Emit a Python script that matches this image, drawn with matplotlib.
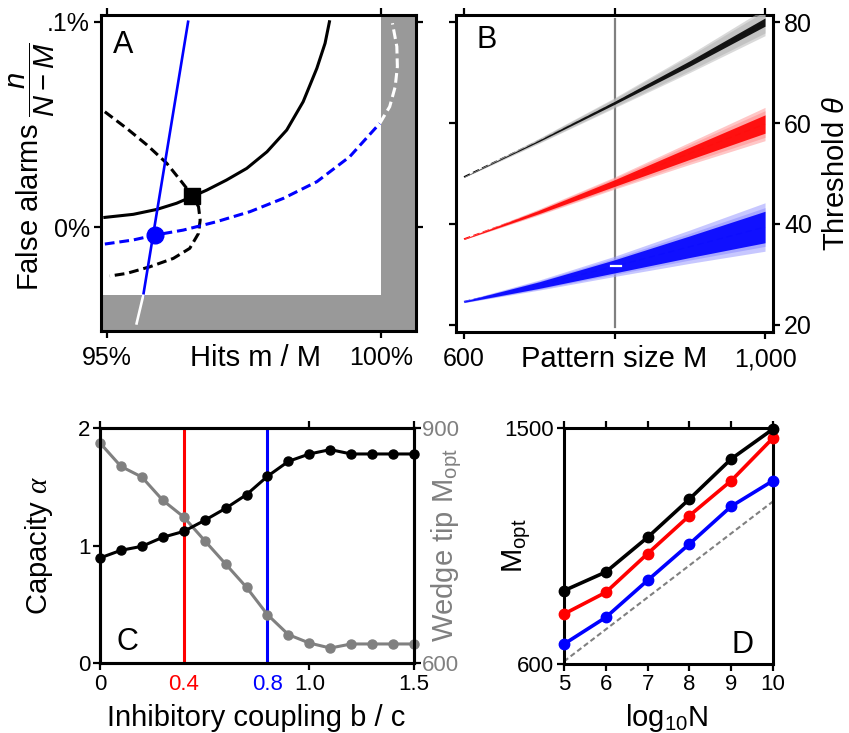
import matplotlib
matplotlib.use("Agg")
import matplotlib.pyplot as plt
import numpy as np

plt.rcParams['font.family'] = ['Liberation Sans', 'DejaVu Sans']
plt.rcParams['mathtext.fontset'] = 'custom'
plt.rcParams['mathtext.rm'] = 'Liberation Sans'
plt.rcParams['mathtext.it'] = 'Liberation Sans:italic'
plt.rcParams['mathtext.cal'] = 'Liberation Serif:italic'
plt.rcParams['axes.linewidth'] = 2.2

# ---------------- Panel A: hits vs false alarms ----------------
a_xticks = [95, 100]
a_xticklabels = ['95%', '100%']
a_yticks = [0.0, 0.1]
a_yticklabels = ['0%', '.1%']

a_black_x = [94.96, 95.48, 95.91, 96.27, 96.55, 96.82, 97.18, 97.55, 97.92, 98.28, 98.58, 98.83, 98.98, 99.06]
a_black_y = [0.0047, 0.0062, 0.0086, 0.0116, 0.0148, 0.0180, 0.0229, 0.0286, 0.0367, 0.0473, 0.0611, 0.0774, 0.0896, 0.1001]

a_dash_x = [94.96, 95.36, 95.73, 96.09, 96.36, 96.55, 96.67, 96.70, 96.67, 96.51, 96.21, 95.78, 95.36, 95.05]
a_dash_y = [0.0562, 0.0481, 0.0400, 0.0311, 0.0221, 0.0156, 0.0099, 0.0034, -0.0031, -0.0104, -0.0153, -0.0194, -0.0226, -0.0239]

a_bdash_x = [94.96, 95.48, 95.88, 96.39, 97.00, 97.61, 98.22, 98.83, 99.43, 99.98]
a_bdash_y = [-0.0083, -0.0063, -0.0039, -0.0015, 0.0026, 0.0075, 0.0140, 0.0221, 0.0343, 0.0506]
a_wdash_x = [99.98, 100.16, 100.26, 100.30, 100.29, 100.21]
a_wdash_y = [0.0506, 0.0587, 0.0684, 0.0782, 0.0880, 0.0994]

a_bline_x = [96.48, 95.66]
a_bline_y = [0.1001, -0.0335]
a_wline_x = [95.66, 95.54]
a_wline_y = [-0.0335, -0.0470]

a_square = (96.55, 0.0151)
a_circle = (95.88, -0.0039)
a_hits_max = 100.0
a_fa_min = -0.0332

# ---------------- Panel B: threshold vs pattern size ----------------
b_M = [600, 700, 800, 900, 1000]
b_theta_black = [49.3, 56.5, 64.0, 71.8, 80.0]
b_theta_red = [37.0, 42.4, 48.1, 54.0, 59.8]
b_theta_blue = [24.6, 27.9, 31.6, 35.5, 39.4]
b_spread_black = [0.1, 0.5, 1.0, 1.8, 2.7]
b_spread_red = [0.1, 0.6, 1.2, 2.2, 3.3]
b_spread_blue = [0.2, 1.0, 2.0, 3.3, 4.8]
b_xticks = [600, 800, 1000]
b_xticklabels = ['600', '', '1,000']
b_yticks = [20, 40, 60, 80]
b_marker_M = 800
b_marker_theta = 31.7

# ---------------- Panel C: capacity and wedge tip vs coupling ----------------
c_b = [0.0, 0.1, 0.2, 0.3, 0.4, 0.5, 0.6, 0.7, 0.8, 0.9, 1.0, 1.1, 1.2, 1.3, 1.4, 1.5]
c_capacity = [0.894, 0.959, 0.993, 1.07, 1.12, 1.214, 1.316, 1.433, 1.589, 1.716, 1.779, 1.816, 1.779, 1.779, 1.779, 1.779]
c_wedge = [880.9, 851.0, 837.4, 807.7, 786.4, 756.2, 726.4, 696.6, 661.7, 636.2, 625.5, 619.1, 624.3, 624.3, 624.3, 624.3]
c_red_b = 0.4
c_blue_b = 0.8
c_xticks = [0, 0.4, 0.8, 1.0, 1.5]
c_xticklabels = ['0', '0.4', '0.8', '1.0', '1.5']
c_top_ticks = [0, 1.0, 1.5]

# ---------------- Panel D: M_opt vs log10 N ----------------
d_logN = [5, 6, 7, 8, 9, 10]
d_black = [879.7, 950.8, 1083.0, 1229.0, 1382.0, 1496.0]
d_red = [790.7, 873.3, 1020.8, 1165.7, 1299.0, 1461.9]
d_blue = [676.0, 777.9, 919.0, 1057.6, 1201.3, 1299.0]
d_ref_x = [5, 10]
d_ref_y = [610, 1220]

BLUE = '#0000ff'
RED = '#ff0000'
GREY = '#808080'
SHADE = '#999999'

W, H = 849, 733
fig = plt.figure(figsize=(W / 100, H / 100), dpi=100)


def frac_axes(l, t, r, b):
    return fig.add_axes([l / W, 1 - b / H, (r - l) / W, (b - t) / H])


def style_ticks(ax, size):
    ax.tick_params(which='both', direction='out', length=5, width=1.6,
                   labelsize=size, pad=3)


# ---------- A ----------
axA = frac_axes(101, 15, 416, 331)
axA.set_xlim(94.89, 100.64)
axA.set_ylim(-0.0507, 0.1034)
x0, x1 = axA.get_xlim()
y0, y1 = axA.get_ylim()
axA.fill_between([x0, a_hits_max], y0, a_fa_min, color=SHADE, lw=0, zorder=1)
axA.fill_between([a_hits_max, x1], y0, y1, color=SHADE, lw=0, zorder=1)

dash = (0, (3.2, 1.6))
axA.plot(a_black_x, a_black_y, color='black', lw=2.2, zorder=3)
axA.plot(a_dash_x, a_dash_y, color='black', lw=2.2, ls=dash, zorder=3)
axA.plot(a_bdash_x, a_bdash_y, color=BLUE, lw=2.2, ls=dash, zorder=3)
axA.plot(a_wdash_x, a_wdash_y, color='white', lw=2.2, ls=dash, zorder=3)
axA.plot(a_bline_x, a_bline_y, color=BLUE, lw=1.9, zorder=4)
axA.plot(a_wline_x, a_wline_y, color='white', lw=1.9, zorder=4)
axA.plot([a_square[0]], [a_square[1]], marker='s', ms=12, color='black', zorder=5)
axA.plot([a_circle[0]], [a_circle[1]], marker='o', ms=12, color=BLUE, zorder=5)

axA.set_xticks(a_xticks)
axA.set_xticklabels(a_xticklabels)
axA.set_yticks(a_yticks)
axA.set_yticklabels(a_yticklabels)
style_ticks(axA, 18)
axA.tick_params(top=True, right=True)
axA.tick_params(axis='x', pad=6)
axA.text(0.07, 0.905, 'A', transform=axA.transAxes, fontsize=22,
         ha='center', va='center')
axA.text(0.49, -0.085, 'Hits m / M', transform=axA.transAxes, fontsize=21,
         ha='center', va='center')
axA.set_ylabel(r'False alarms $\dfrac{n}{N-M}$', fontsize=21)
axA.yaxis.set_label_coords(-0.14, 0.52)

# ---------- B ----------
axB = frac_axes(456, 15, 773, 332)
axB.set_xlim(589.4, 1010.6)
axB.set_ylim(18.6, 81.4)
axB.plot([b_marker_M, b_marker_M], [19.5, 80.6], color=GREY, lw=1.6, zorder=2)

bands = [
    (b_theta_black, b_spread_black, 'black', '#bbbbbb', 0.30),
    (b_theta_red, b_spread_red, RED, '#ff9a9a', 0.55),
    (b_theta_blue, b_spread_blue, BLUE, '#9a9aff', 0.65),
]
Mv = np.array(b_M, dtype=float)
for theta, spread, col, light, core in bands:
    th = np.array(theta)
    sp = np.array(spread)
    axB.plot(Mv, th, color=col, lw=1.2, ls=(0, (4, 2)), zorder=3)
    axB.fill_between(Mv, th - sp, th + sp, color=light, alpha=0.55, lw=0, zorder=3)
    axB.fill_between(Mv, th - 0.8 * sp, th + 0.8 * sp, color=light, alpha=0.7, lw=0, zorder=3)
    axB.fill_between(Mv, th - core * sp, th + core * sp, color=col, alpha=0.9, lw=0, zorder=4)
axB.plot([b_marker_M - 4, b_marker_M + 9], [b_marker_theta, b_marker_theta],
         color='white', lw=1.6, zorder=5)

axB.set_xticks(b_xticks)
axB.set_xticklabels(b_xticklabels)
axB.set_yticks(b_yticks)
style_ticks(axB, 18)
axB.tick_params(top=True, right=True, labelleft=False, labelright=True)
axB.tick_params(axis='x', pad=6)
axB.text(0.098, 0.921, 'B', transform=axB.transAxes, fontsize=22,
         ha='center', va='center')
axB.text(0.5, -0.085, 'Pattern size M', transform=axB.transAxes, fontsize=21,
         ha='center', va='center')
axB.yaxis.set_label_position('right')
axB.set_ylabel(r'Threshold $\theta$', fontsize=21)
axB.yaxis.set_label_coords(1.155, 0.5)

# ---------- C ----------
# wedge tip (grey) on the right-hand scale, bottom x ticks
axC = frac_axes(100, 428, 414, 663)
axC.set_xlim(0, 1.5)
axC.set_ylim(600, 900)
axC.axvline(c_red_b, color=RED, lw=2.2, zorder=1)
axC.axvline(c_blue_b, color=BLUE, lw=2.2, zorder=1)
axC.plot(c_b, c_wedge, color=GREY, lw=2.2, marker='o', ms=6.5, zorder=3,
         clip_on=False)
axC.yaxis.tick_right()
axC.yaxis.set_label_position('right')
axC.xaxis.set_ticks_position('bottom')
axC.set_yticks([600, 900])
axC.set_xticks(c_xticks)
axC.set_xticklabels(c_xticklabels)
style_ticks(axC, 16)
axC.tick_params(axis='y', labelcolor=GREY, pad=1)
for lbl, col in zip(axC.get_xticklabels(), ['black', RED, BLUE, 'black', 'black']):
    lbl.set_color(col)
for tk, val in zip(axC.xaxis.get_major_ticks(), c_xticks):
    if val in (c_red_b, c_blue_b):
        tk.tick1line.set_visible(False)
axC.set_ylabel(r'Wedge tip M$_{\mathrm{opt}}$', fontsize=21, color=GREY)
axC.yaxis.set_label_coords(1.05, 0.5)
axC.text(0.497, -0.234, 'Inhibitory coupling b / c', transform=axC.transAxes,
         fontsize=21, ha='center', va='center')

# capacity (black) on the left-hand scale, top x ticks
axC2 = frac_axes(100, 428, 414, 663)
axC2.patch.set_visible(False)
axC2.set_xlim(0, 1.5)
axC2.set_ylim(0, 2)
axC2.plot(c_b, c_capacity, color='black', lw=2.2, marker='o', ms=6.5,
          zorder=3, clip_on=False)
axC2.yaxis.tick_left()
axC2.set_yticks([0, 1, 2])
axC2.xaxis.set_ticks_position('top')
axC2.set_xticks(c_top_ticks)
style_ticks(axC2, 16)
axC2.tick_params(axis='x', labeltop=False, labelbottom=False)
axC2.tick_params(axis='y', pad=2)
axC2.set_ylabel(r'Capacity $\mathcal{\alpha}$', fontsize=21)
axC2.yaxis.set_label_coords(-0.143, 0.5)
axC2.text(0.086, 0.09, 'C', transform=axC2.transAxes, fontsize=22,
          ha='center', va='center')

# ---------- D ----------
axD = frac_axes(564, 428, 773, 664)
axD.set_xlim(5, 10)
axD.set_ylim(600, 1500)
axD.plot(d_ref_x, d_ref_y, color=GREY, lw=1.5, ls=(0, (2.5, 1.5)), zorder=2)
for ys, col in [(d_blue, BLUE), (d_red, RED), (d_black, 'black')]:
    axD.plot(d_logN, ys, color=col, lw=2.6, marker='o', ms=7.5, zorder=3,
             clip_on=False)
axD.set_xticks(d_logN)
axD.set_yticks([600, 1500])
style_ticks(axD, 16)
axD.tick_params(top=True, axis='x', pad=2)
axD.tick_params(axis='y', pad=2)
axD.text(0.852, 0.08, 'D', transform=axD.transAxes, fontsize=22,
         ha='center', va='center')
axD.set_ylabel(r'M$_{\mathrm{opt}}$', fontsize=21)
axD.yaxis.set_label_coords(-0.15, 0.5)
axD.text(0.493, -0.229, r'log$_{10}$N', transform=axD.transAxes, fontsize=21,
         ha='center', va='center')

fig.savefig('out.png', dpi=100)
